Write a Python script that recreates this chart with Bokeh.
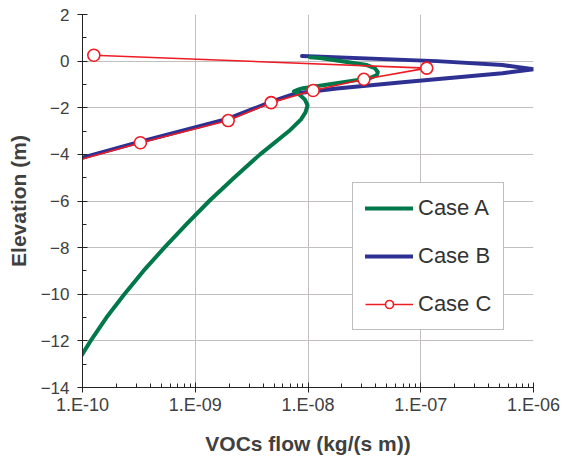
from bokeh.plotting import figure
from bokeh.models import FixedTicker, CustomJSTickFormatter, Range1d, Legend, LegendItem
from bokeh.embed import file_html
from bokeh.resources import INLINE

# Case A (green)
a_x = [9.03e-11, 1.18e-10, 1.63e-10, 2.35e-10, 3.47e-10, 5.32e-10, 8.33e-10, 1.33e-09,
       2.21e-09, 3.76e-09, 6.79e-09, 8.67e-09, 9.50e-09, 9.91e-09, 9.39e-09, 8.49e-09,
       7.83e-09, 7.51e-09, 8.0e-09, 9.04e-09, 3.54e-08, 4.08e-08, 4.16e-08, 3.91e-08,
       3.33e-08, 1.28e-08, 1.04e-08]
a_y = [-12.9, -12.0, -11.0, -10.0, -9.0, -8.0, -7.0, -6.0,
       -5.0, -4.0, -3.0, -2.5, -2.2, -1.9, -1.65, -1.45,
       -1.35, -1.30, -1.24, -1.16, -0.73, -0.60, -0.47, -0.30,
       -0.17, 0.13, 0.17]

# Case B (blue)
b_x = [8.85e-09, 1.39e-07, 5.3e-07, 1.0e-06, 5.3e-07, 6.9e-08, 1.8e-08, 7.67e-09,
       4.8e-09, 1.96e-09, 3.26e-10, 1.0e-10, 8.5e-11]
b_y = [0.22, 0.0, -0.17, -0.35, -0.52, -0.91, -1.17, -1.39,
       -1.73, -2.47, -3.46, -4.14, -4.28]

# Case C (red, with markers)
c_x = [1.26e-10, 1.13e-07, 3.13e-08, 1.11e-08, 4.71e-09, 1.96e-09, 3.26e-10, 1.0e-10, 8.5e-11]
c_y = [0.25, -0.30, -0.78, -1.26, -1.78, -2.55, -3.50, -4.20, -4.32]
c_mx = c_x[:7]
c_my = c_y[:7]

x_ticks = [1e-10, 1e-09, 1e-08, 1e-07, 1e-06]
y_ticks = [-14, -12, -10, -8, -6, -4, -2, 0, 2]

GREEN = "#00784A"
BLUE = "#2E3192"
RED = "#EE1C25"
FONT = "Liberation Sans"

p = figure(width=570, height=461, x_axis_type="log", output_backend="svg",
           toolbar_location=None, x_range=Range1d(1e-10, 1e-6), y_range=Range1d(-14, 2),
           min_border_left=82, min_border_right=37, min_border_top=14, min_border_bottom=74)

p.outline_line_color = None
p.background_fill_color = "white"

rb = p.line(b_x, b_y, line_color=BLUE, line_width=4, line_join="round", line_cap="round")
ra = p.line(a_x, a_y, line_color=GREEN, line_width=4, line_join="round", line_cap="round")
rc = p.line(c_x, c_y, line_color=RED, line_width=1.6)
rcm = p.scatter(c_mx, c_my, marker="circle", size=12, line_color=RED, line_width=1.6,
                fill_color="white")

p.xaxis.ticker = FixedTicker(ticks=x_ticks,
                             minor_ticks=[m * 10.0 ** e for e in range(-10, -6) for m in range(2, 10)])
p.xaxis.formatter = CustomJSTickFormatter(code="""
const e = Math.round(Math.log10(tick));
const a = Math.abs(e);
return '1.E' + (e < 0 ? '-' : '+') + (a < 10 ? '0' + a : '' + a);
""")
p.yaxis.ticker = FixedTicker(ticks=y_ticks, minor_ticks=list(range(-14, 3)))

for ax in (p.xaxis, p.yaxis):
    ax.axis_line_color = "#222222"
    ax.major_tick_line_color = "#222222"
    ax.minor_tick_line_color = "#222222"
    ax.major_tick_out = 5
    ax.major_tick_in = 5
    ax.minor_tick_out = 0
    ax.minor_tick_in = 4
    ax.major_label_text_font = FONT
    ax.major_label_text_color = "#404040"
    ax.axis_label_text_font = FONT
    ax.axis_label_text_font_size = "21px"
    ax.axis_label_text_font_style = "bold"
    ax.axis_label_text_color = "#404040"

p.xaxis.major_label_text_font_size = "18px"
p.yaxis.major_label_text_font_size = "17px"
p.xaxis.axis_label = "VOCs flow (kg/(s m))"
p.yaxis.axis_label = "Elevation (m)"
p.xaxis.major_label_standoff = 2
p.yaxis.major_label_standoff = 8
p.xaxis.axis_label_standoff = 14
p.yaxis.axis_label_standoff = 8

p.xgrid.ticker = FixedTicker(ticks=x_ticks)
p.ygrid.ticker = FixedTicker(ticks=y_ticks)
p.grid.grid_line_color = "#C4BFBF"
p.grid.grid_line_width = 1

legend = Legend(items=[
    LegendItem(label="Case A", renderers=[ra]),
    LegendItem(label="Case B", renderers=[rb]),
    LegendItem(label="Case C", renderers=[rc, rcm]),
], location=(270, 57))
legend.label_text_font = FONT
legend.label_text_font_size = "22px"
legend.label_text_color = "#333333"
legend.glyph_width = 48
legend.glyph_height = 20
legend.label_height = 20
legend.label_width = 70
legend.label_standoff = 5
legend.spacing = 22
legend.padding = 12
legend.margin = 0
legend.border_line_color = "#808080"
legend.border_line_width = 1
legend.background_fill_color = "white"
legend.background_fill_alpha = 1
p.add_layout(legend, "center")

open("out.html", "w").write(file_html(p, INLINE))
